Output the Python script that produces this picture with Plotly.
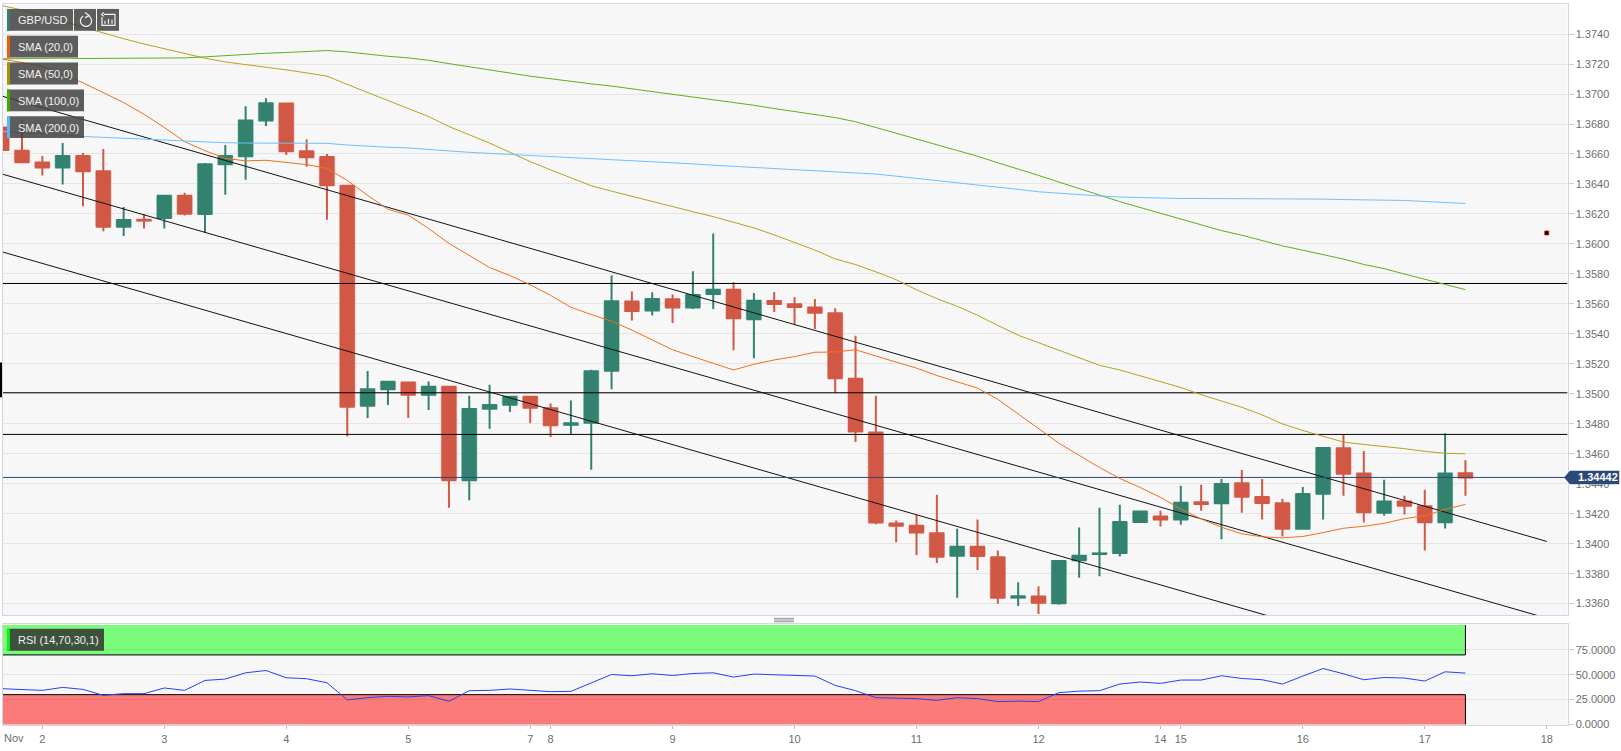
import math
import plotly.graph_objects as go

W, H = 1621, 751

first_bar = -2
open_ = [1.36777,1.36622,1.36543,1.36509,1.36587,1.36485,1.36114,1.36162,1.36173,1.36322,1.36200,1.36531,1.36585,1.36823,1.36936,1.36618,1.36580,1.36388,1.34920,1.35031,
         1.35075,1.34994,1.35047,1.34424,1.34901,1.34927,1.34980,1.34903,1.34793,1.34806,1.35153,1.35615,1.35555,1.35630,1.35575,1.35666,1.35694,1.35498,1.35619,1.35597,
         1.35575,1.35537,1.35100,1.34742,1.34134,1.34119,1.34070,1.33920,1.33979,1.33909,1.33641,1.33648,1.33602,1.33889,1.33931,1.33937,1.34145,1.34181,1.34161,
         1.34276,1.34269,1.34404,1.34311,1.34269,1.34099,1.34333,1.34636,1.34468,1.34207,1.34282,1.34249,1.34143,1.34470]
high = [1.36810,1.36825,1.36587,1.36673,1.36607,1.36633,1.36246,1.36200,1.36328,1.36341,1.36540,1.36660,1.36918,1.36971,1.36940,1.36699,1.36600,1.36388,1.35152,1.35082,
        1.35080,1.35082,1.35047,1.34987,1.35060,1.34982,1.34982,1.34936,1.34956,1.35160,1.35789,1.35683,1.35677,1.35663,1.35818,1.36070,1.35745,1.35672,1.35679,1.35646,
        1.35632,1.35570,1.35387,1.34987,1.34154,1.34192,1.34326,1.34099,1.34161,1.33955,1.33743,1.33716,1.33889,1.34108,1.34240,1.34260,1.34220,1.34220,1.34386,
        1.34393,1.34432,1.34492,1.34432,1.34300,1.34379,1.34645,1.34729,1.34618,1.34426,1.34320,1.34360,1.34737,1.34556]
low = [1.36523,1.36540,1.36456,1.36397,1.36251,1.36085,1.36052,1.36103,1.36103,1.36189,1.36074,1.36328,1.36428,1.36786,1.36593,1.36514,1.36162,1.34715,1.34839,1.34925,
       1.34839,1.34892,1.34240,1.34289,1.34766,1.34879,1.34804,1.34711,1.34728,1.34494,1.35031,1.35489,1.35522,1.35473,1.35566,1.35566,1.35290,1.35237,1.35546,1.35462,
       1.35433,1.35007,1.34678,1.34130,1.34010,1.33924,1.33871,1.33639,1.33825,1.33599,1.33584,1.33531,1.33593,1.33772,1.33783,1.33915,1.34145,1.34114,1.34127,
       1.34220,1.34030,1.34207,1.34161,1.34048,1.34097,1.34161,1.34320,1.34141,1.34187,1.34194,1.33955,1.34101,1.34320]
close = [1.36627,1.36545,1.36509,1.36587,1.36485,1.36114,1.36160,1.36156,1.36322,1.36202,1.36531,1.36587,1.36823,1.36938,1.36618,1.36578,1.36392,1.34914,1.35031,1.35080,
         1.34993,1.35047,1.34424,1.34899,1.34925,1.34980,1.34907,1.34790,1.34804,1.35151,1.35617,1.35553,1.35632,1.35575,1.35659,1.35694,1.35504,1.35621,1.35599,1.35579,
         1.35540,1.35104,1.34748,1.34141,1.34119,1.34074,1.33913,1.33979,1.33918,1.33639,1.33650,1.33606,1.33884,1.33920,1.33935,1.34145,1.34214,1.34161,1.34273,
         1.34264,1.34399,1.34313,1.34271,1.34099,1.34331,1.34638,1.34466,1.34209,1.34282,1.34253,1.34143,1.34468,1.34442]

sma20 = [1.37234,1.37212,1.37186,1.3713,1.37075,1.37009,1.36943,1.36865,1.36777,1.36682,1.36622,1.36571,1.36554,1.36558,1.36545,1.36529,1.36505,1.36423,1.36324,1.36231,
         1.36192,1.36103,1.36004,1.35922,1.35842,1.35789,1.35727,1.35657,1.35577,1.35529,1.35484,1.35425,1.35358,1.35294,1.35248,1.35204,1.35159,1.35197,1.35226,1.35248,
         1.35277,1.35279,1.35294,1.35252,1.35212,1.35171,1.35122,1.3508,1.35038,1.34963,1.34866,1.34766,1.34671,1.34589,1.34508,1.34435,1.34375,1.34309,1.34231,
         1.34165,1.3411,1.34066,1.34046,1.34039,1.34048,1.34074,1.34103,1.34116,1.34136,1.34167,1.34187,1.34229,1.34262]
sma50 = [1.3759,1.37561,1.37524,1.37484,1.37444,1.37407,1.37369,1.37334,1.37301,1.37267,1.37239,1.37214,1.37197,1.37181,1.37161,1.37141,1.37119,1.37064,1.37012,1.36958,
         1.36903,1.3685,1.36783,1.36728,1.36673,1.36611,1.36549,1.36494,1.36441,1.36388,1.36352,1.36317,1.36282,1.36246,1.36215,1.36182,1.36145,1.36107,1.3606,1.3601,
         1.35959,1.359,1.35862,1.35814,1.35761,1.35694,1.35635,1.35584,1.35524,1.35456,1.35391,1.35341,1.3529,1.35241,1.3519,1.35159,1.3512,1.3508,1.35042,
         1.34994,1.34954,1.3491,1.34859,1.34799,1.34755,1.34715,1.34678,1.34662,1.34649,1.34634,1.34616,1.34603,1.346]
sma100 = [1.37235,1.37237,1.37239,1.37239,1.37237,1.37237,1.37237,1.37237,1.37237,1.37241,1.37248,1.37257,1.37266,1.37272,1.37277,1.37283,1.3729,1.37281,1.37266,1.37252,
          1.37241,1.37225,1.37203,1.37181,1.37159,1.37137,1.37119,1.37102,1.37084,1.37068,1.37053,1.37035,1.37018,1.37,1.36982,1.36962,1.36945,1.36925,1.36903,1.36883,
          1.36868,1.36843,1.36815,1.36777,1.36737,1.367,1.36662,1.36622,1.36585,1.36541,1.36501,1.36457,1.36413,1.36368,1.36324,1.36282,1.36243,1.36204,1.36164,
          1.36126,1.36089,1.36058,1.36022,1.35987,1.35958,1.3593,1.35899,1.35863,1.35835,1.35799,1.35764,1.35728,1.35695]
sma200 = [1.36751,1.36744,1.36737,1.36726,1.36717,1.36711,1.36704,1.36698,1.36691,1.36682,1.36678,1.36675,1.36673,1.36673,1.36673,1.36673,1.36671,1.3666,1.36651,1.36645,
          1.36640,1.36629,1.36618,1.36611,1.36604,1.36598,1.36589,1.36582,1.36576,1.36569,1.36562,1.36556,1.36549,1.3654,1.36534,1.36525,1.36518,1.36509,1.36503,1.36497,
          1.3649,1.36483,1.36474,1.36466,1.36452,1.36439,1.36424,1.36408,1.36393,1.3638,1.36364,1.36348,1.36337,1.36329,1.3632,1.36313,1.36309,1.36304,1.36303,
          1.36303,1.36303,1.36303,1.36301,1.36301,1.36299,1.36299,1.36296,1.36294,1.36292,1.3629,1.36283,1.36277,1.3627]
rsi = [36,35,34.3,37.3,35.3,29.3,31,31,36.7,34.3,44.3,45.7,52,54.3,47,46,42,24.7,27,28.3,
       27.7,29,23.3,34,34.3,35.7,34.7,33,33.3,41.7,50.3,49,51,49.3,51.3,52,47.7,50.7,50,49.7,
       48.7,39.3,34,27,26.7,26,24.3,27,26,23,23.5,23,32,33.5,34,40.7,42.7,41.3,44.7,
       44.7,49,46.3,45,40.7,48.7,56.3,51,45,47.3,46.7,43.7,53,51.7]

h_levels = [1.35736, 1.35007, 1.34729]
channel_bars = [-2, 74]
channel_top = [1.36987, 1.34015]
channel_mid = [1.36467, 1.33503]
channel_low = [1.35948, 1.32984]
last_price = 1.34442
marker_bar = 74
marker_price = 1.36073
rsi_upper = 70
rsi_lower = 30
tick_bars = [0, 6, 12, 18, 24, 25, 31, 37, 43, 49, 55, 56, 62, 68, 74]
tick_labels = ["2", "3", "4", "5", "7", "8", "9", "10", "11", "12", "14", "15", "16", "17", "18"]
indicator_labels = ["SMA (20,0)", "SMA (50,0)", "SMA (100,0)", "SMA (200,0)"]
for s in (open_, high, low, close, sma20, sma50, sma100, sma200, rsi):
    assert len(s) == 73, len(s)
bars = list(range(first_bar, first_bar + 73))

# ---- layout geometry (pixels) ----
PL, PR = 2.5, 1567.5
X0, DX = 42.33, 20.33
xr = [(PL - X0) / DX, (PR - X0) / DX]
M_TOP, M_BOT = 4.5, 619.5
R_TOP, R_BOT = 628.3, 730.3
PX_PER_UNIT = 15089.0
yr_main = [1.3740 - (M_BOT - 34.3) / PX_PER_UNIT, 1.3740 + (34.3 - M_TOP) / PX_PER_UNIT]
px = lambda x: x / W
py = lambda y: 1 - y / H

GREEN, RED = "#33826f", "#d25846"
GREEN_H, RED_H = "#a3cdc2", "#e9aea5"
BORDER = "#d2d5e8"
TXT = "#6e6e6e"
GRID = "rgba(0,0,0,0.07)"
FONT = "Liberation Sans, Arial, sans-serif"

fig = go.Figure()

halo = [GREEN_H if c >= o else RED_H for o, c in zip(open_, close)]
fig.add_trace(go.Bar(x=bars, base=[min(o, c) for o, c in zip(open_, close)],
                     y=[abs(o - c) for o, c in zip(open_, close)], width=0.8,
                     marker=dict(color=halo, line=dict(width=0)), hoverinfo="skip", showlegend=False))
fig.add_trace(go.Candlestick(x=bars, open=open_, high=high, low=low, close=close, whiskerwidth=0,
                             increasing=dict(line=dict(color=GREEN, width=2), fillcolor=GREEN),
                             decreasing=dict(line=dict(color=RED, width=2), fillcolor=RED),
                             name="GBP/USD", showlegend=False))

for lvl in h_levels:
    fig.add_trace(go.Scatter(x=xr, y=[lvl, lvl], mode="lines", line=dict(color="#000000", width=1),
                             hoverinfo="skip", showlegend=False))
for ch in (channel_top, channel_mid, channel_low):
    fig.add_trace(go.Scatter(x=channel_bars, y=ch, mode="lines", line=dict(color="#111111", width=1),
                             hoverinfo="skip", showlegend=False))
fig.add_trace(go.Scatter(x=xr, y=[last_price, last_price], mode="lines", line=dict(color="#2b4a78", width=1),
                         hoverinfo="skip", showlegend=False))
for name, vals, col in zip(indicator_labels, (sma20, sma50, sma100, sma200),
                           ("#f0701e", "#b5a31e", "#5cb01c", "#6cc0ff")):
    fig.add_trace(go.Scatter(x=bars, y=vals, mode="lines", name=name, line=dict(color=col, width=1),
                             showlegend=False))
fig.add_trace(go.Scatter(x=[marker_bar], y=[marker_price], mode="markers",
                         marker=dict(symbol="square", size=4, color="#000000",
                                     line=dict(color="rgba(255,0,0,0.75)", width=1)),
                         hoverinfo="skip", showlegend=False))
fig.add_trace(go.Scatter(x=bars, y=rsi, mode="lines", name="RSI", xaxis="x2", yaxis="y2",
                         line=dict(color="#2442f0", width=1), showlegend=False))

shapes = []
annots = []


def rect(x0, y0, x1, y1, fill):
    shapes.append(dict(type="rect", xref="paper", yref="paper", x0=px(x0), x1=px(x1), y0=py(y0), y1=py(y1),
                       fillcolor=fill, line=dict(width=0), layer="above"))


def poly(points, color, width=1.2, close_=False, fill=None):
    d = "M" + " L".join(f"{px(a):.5f},{py(b):.5f}" for a, b in points) + (" Z" if close_ else "")
    shapes.append(dict(type="path", xref="paper", yref="paper", path=d, layer="above",
                       line=dict(color=color, width=width), fillcolor=fill))


def label(x, y, text, color="#f2f2f2", bold=False, size=11):
    annots.append(dict(xref="paper", yref="paper", x=px(x), y=py(y), text=f"<b>{text}</b>" if bold else text,
                       showarrow=False, xanchor="left", yanchor="middle",
                       font=dict(family=FONT, size=size, color=color)))


# RSI zones
for y0, y1, fill in ((rsi_upper, 100, "rgba(0,255,0,0.5)"), (0, rsi_lower, "rgba(255,0,0,0.5)")):
    shapes.append(dict(type="rect", xref="x2", yref="y2", x0=xr[0], x1=bars[-1], y0=y0, y1=y1,
                       fillcolor=fill, line=dict(width=0), layer="below"))
for lvl, top in ((rsi_upper, 100), (rsi_lower, 0)):
    shapes.append(dict(type="line", xref="x2", yref="y2", x0=xr[0], x1=bars[-1], y0=lvl, y1=lvl,
                       line=dict(color="#000", width=1), layer="below"))
    shapes.append(dict(type="line", xref="x2", yref="y2", x0=bars[-1], x1=bars[-1], y0=lvl, y1=top,
                       line=dict(color="#000", width=1), layer="below"))
    shapes.append(dict(type="line", xref="x2", yref="y2", x0=xr[0], x1=xr[0], y0=lvl, y1=top,
                       line=dict(color="#000", width=1), layer="below"))

# legend chips
BOX = "rgba(66,66,66,0.85)"
rect(7, 9, 73, 31, BOX); rect(7, 9, 10, 31, "#33806f"); label(16, 20.5, "GBP/USD")
rect(74, 9, 96, 31, BOX); rect(97, 9, 119, 31, BOX)
for (y0, x1, col), txt in zip(((36, 78, "#e8600a"), (63, 78, "#a89000"), (90, 84, "#44aa00"), (117, 84, "#55b8ff")),
                              indicator_labels):
    rect(7, y0, x1, y0 + 22, BOX); rect(7, y0, 10, y0 + 22, col); label(16, y0 + 11.5, txt)
rect(7, 633, 104, 655, "rgba(50,50,50,0.85)"); rect(7, 633, 10, 655, "#10f010"); label(16, 644.5, "RSI (14,70,30,1)")

# refresh icon
arc = [(86 + 5.6 * math.cos(math.radians(a)), 21 + 5.6 * math.sin(math.radians(a))) for a in range(-60, 250, 20)]
poly(arc, "#f2f2f2")
poly([(85, 12.5), (89, 15.5), (85, 18)], "#f2f2f2")
# bars icon
poly([(104, 14.5), (115, 14.5), (115, 25.5), (102, 25.5), (102, 17)], "#f2f2f2")
poly([(104, 12.5), (101.5, 14.5), (104, 16.5)], "#f2f2f2")
for xb, yt in ((105, 21), (108.5, 19), (112, 20)):
    poly([(xb, yt), (xb, 24)], "#f2f2f2")

# last price tag
yy = M_TOP + (yr_main[1] - last_price) * PX_PER_UNIT
poly([(1564.3, yy), (1570, yy - 6.5), (1619, yy - 6.5), (1619, yy + 6.5), (1570, yy + 6.5)], "#2b4a78", 0.5, True, "#2b4a78")
annots.append(dict(xref="paper", yref="y", x=px(1576), y=last_price, text=f"<b>{last_price:.5f}</b>", showarrow=False,
                   xanchor="left", yanchor="middle", font=dict(family=FONT, size=11, color="#ffffff")))

# divider handle between panels and cropped edge mark
for yh in (622.5, 624.2, 625.9):
    poly([(774, yh), (794, yh)], "#777777", 0.8)
rect(0, 365, 2, 400, "#000000")

# "Nov" sits right of the month tick
annots.append(dict(xref="paper", yref="paper", x=px(2.3), y=py(743), text="Nov", showarrow=False, xanchor="left",
                   yanchor="middle", font=dict(family=FONT, size=11, color=TXT)))

axis_common = dict(showline=True, linecolor=BORDER, linewidth=1, mirror=True, zeroline=False, fixedrange=True)
fig.update_layout(
    width=W, height=H, margin=dict(l=0, r=0, t=0, b=0, pad=0), autosize=False,
    paper_bgcolor="#ffffff", plot_bgcolor="#f7f7f7", showlegend=False, barmode="overlay",
    boxgap=0.36, boxgroupgap=0,
    hovermode=False, shapes=shapes, annotations=annots,
    font=dict(family=FONT, size=11, color=TXT),
    xaxis=dict(domain=[px(PL), px(PR)], range=xr, anchor="y", showgrid=False, showticklabels=False,
               ticks="", rangeslider=dict(visible=False), **axis_common),
    xaxis2=dict(domain=[px(PL), px(PR)], range=xr, anchor="y2", showgrid=False, ticks="outside", ticklen=3,
                tickcolor="#bbbbbb", tickmode="array", tickvals=[first_bar] + tick_bars, ticktext=[""] + tick_labels,
                tickfont=dict(family=FONT, size=11, color=TXT), **axis_common),
    yaxis=dict(domain=[py(M_BOT), py(M_TOP)], range=yr_main, anchor="x", side="right", tick0=1.3740, dtick=0.002,
               tickformat=".4f", showgrid=True, gridcolor=GRID, gridwidth=1, ticks="outside", ticklen=5,
               tickcolor="#cccccc", tickfont=dict(family=FONT, size=11, color=TXT), **axis_common),
    yaxis2=dict(domain=[py(R_BOT), py(R_TOP)], range=[-1, 101], anchor="x2", side="right", tickmode="array",
                tickvals=[0, 25, 50, 75], tickformat=".4f", showgrid=True, gridcolor=GRID, gridwidth=1,
                ticks="outside", ticklen=5, tickcolor="#cccccc", tickfont=dict(family=FONT, size=11, color=TXT),
                **axis_common),
)

fig.write_html("out.html", config=dict(displayModeBar=False),
               post_script="document.body.style.margin='0';document.documentElement.style.overflow='hidden';")
